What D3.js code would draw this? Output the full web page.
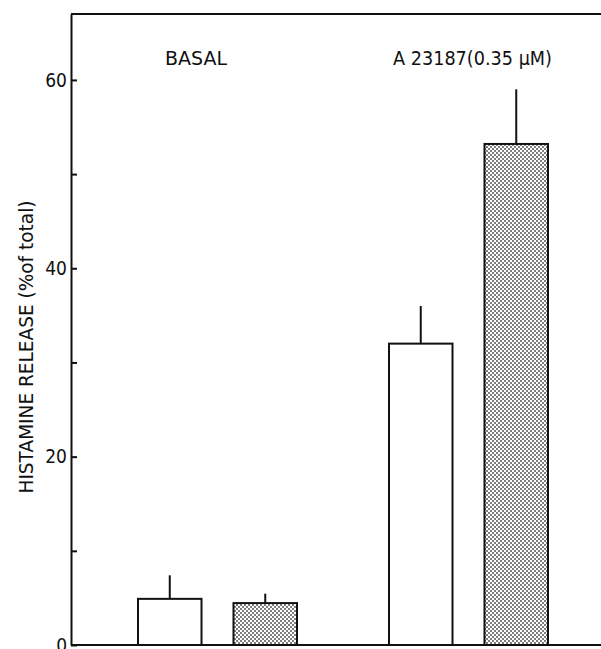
<!DOCTYPE html>
<html>
<head>
<meta charset="utf-8">
<script src="https://cdn.jsdelivr.net/npm/d3@7"></script>
<style>
  body { margin: 0; background: #fff; }
  text { font-family: "DejaVu Sans", sans-serif; fill: #111; }
</style>
</head>
<body>
<div id="root"></div>
<script>
// data
var groups = ["BASAL", "A 23187(0.35 \u03bcM)"];
var conditions = ["open", "stippled"];
var values = [
  [4.9, 4.45],
  [32.0, 53.2]
];
var errors = [
  [2.5, 1.0],
  [4.0, 5.8]
];
var majorTicks = [0, 20, 40, 60];
var minorTicks = [10, 30, 50];

var width = 601;
var height = 649;

var svg = d3
  .select("#root")
  .append("svg")
  .attr("width", width)
  .attr("height", height);

// stipple pattern for second bar of each pair
var defs = svg.append("defs");
var pat = defs
  .append("pattern")
  .attr("id", "dots")
  .attr("patternUnits", "userSpaceOnUse")
  .attr("width", 4)
  .attr("height", 4);
pat.append("rect").attr("width", 4).attr("height", 4).attr("fill", "#fff");
pat.append("rect").attr("x", 0.25).attr("y", 0.25).attr("width", 1.5).attr("height", 1.5).attr("fill", "#1a1a1a");
pat.append("rect").attr("x", 2.25).attr("y", 2.25).attr("width", 1.5).attr("height", 1.5).attr("fill", "#1a1a1a");

var yScale = d3.scaleLinear().domain([0, 67]).range([645, 14]);

var xGroup = d3
  .scaleBand()
  .domain(groups)
  .range([138, 548])
  .paddingInner(0.3665)
  .paddingOuter(0);

var xInner = d3
  .scaleBand()
  .domain(conditions)
  .range([0, xGroup.bandwidth()])
  .paddingInner(0.335)
  .paddingOuter(0);

var axisX = 71;

// y axis with inward ticks
var yAxis = d3
  .axisLeft(yScale)
  .tickValues(majorTicks)
  .tickSizeInner(-6)
  .tickSizeOuter(0)
  .tickPadding(4);
var gy = svg
  .append("g")
  .attr("transform", "translate(" + axisX + ",0)")
  .call(yAxis);
gy.selectAll("text")
  .attr("font-size", 19)
  .style("font-family", "DejaVu Sans Condensed, DejaVu Sans, sans-serif")
  .attr("fill", "#111");
gy.selectAll("line, path").attr("stroke", "#111").attr("stroke-width", 2);

var yMinor = d3
  .axisLeft(yScale)
  .tickValues(minorTicks)
  .tickSizeInner(-6)
  .tickSizeOuter(0)
  .tickFormat("");
var gm = svg
  .append("g")
  .attr("transform", "translate(" + axisX + ",0)")
  .call(yMinor);
gm.select(".domain").remove();
gm.selectAll("line").attr("stroke", "#111").attr("stroke-width", 2);

// top frame and baseline
svg
  .append("line")
  .attr("x1", axisX)
  .attr("x2", width)
  .attr("y1", yScale(67))
  .attr("y2", yScale(67))
  .attr("stroke", "#111")
  .attr("stroke-width", 2);
svg
  .append("line")
  .attr("x1", axisX)
  .attr("x2", width)
  .attr("y1", yScale(0))
  .attr("y2", yScale(0))
  .attr("stroke", "#111")
  .attr("stroke-width", 2);

// bars
var rows = [];
groups.forEach(function (g, gi) {
  conditions.forEach(function (c, ci) {
    rows.push({ group: g, cond: c, value: values[gi][ci], err: errors[gi][ci] });
  });
});

var bars = svg
  .selectAll(".bar")
  .data(rows)
  .enter()
  .append("g")
  .attr("class", "bar");

bars
  .append("line")
  .attr("x1", function (d) {
    return xGroup(d.group) + xInner(d.cond) + xInner.bandwidth() / 2;
  })
  .attr("x2", function (d) {
    return xGroup(d.group) + xInner(d.cond) + xInner.bandwidth() / 2;
  })
  .attr("y1", function (d) {
    return yScale(d.value);
  })
  .attr("y2", function (d) {
    return yScale(d.value + d.err);
  })
  .attr("stroke", "#111")
  .attr("stroke-width", 2);

bars
  .append("rect")
  .attr("x", function (d) {
    return xGroup(d.group) + xInner(d.cond);
  })
  .attr("y", function (d) {
    return yScale(d.value);
  })
  .attr("width", xInner.bandwidth())
  .attr("height", function (d) {
    return yScale(0) - yScale(d.value);
  })
  .attr("fill", function (d) {
    return d.cond === "stippled" ? "url(#dots)" : "#fff";
  })
  .attr("stroke", "#111")
  .attr("stroke-width", 2);

// group labels
svg
  .selectAll(".glabel")
  .data(groups)
  .enter()
  .append("text")
  .attr("class", "glabel")
  .attr("x", function (d, i) {
    return i === 0 ? 165 : 393;
  })
  .attr("y", 65)
  .attr("font-size", 19)
  .attr("textLength", function (d, i) {
    return i === 0 ? 62 : 159;
  })
  .attr("lengthAdjust", "spacingAndGlyphs")
  .text(function (d) {
    return d;
  });

// y axis title
svg
  .append("text")
  .attr("transform", "translate(33,347) rotate(-90)")
  .attr("text-anchor", "middle")
  .attr("font-size", 19)
  .attr("textLength", 293)
  .attr("lengthAdjust", "spacingAndGlyphs")
  .text("HISTAMINE RELEASE (%of total)");
</script>
</body>
</html>
